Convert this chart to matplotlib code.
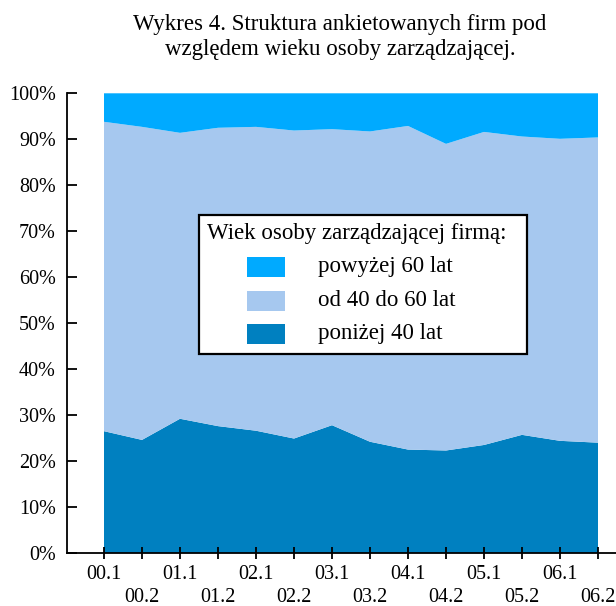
import numpy as np
import matplotlib.pyplot as plt
from matplotlib import rcParams
from matplotlib.patches import Rectangle

rcParams['font.family'] = 'Liberation Serif'
rcParams['font.size'] = 14.5

# half-year periods on the x axis
periods = ["00.1", "00.2", "01.1", "01.2", "02.1", "02.2", "03.1",
           "03.2", "04.1", "04.2", "05.1", "05.2", "06.1", "06.2"]

# share of firms, %
below_40 = [26.5, 24.6, 29.2, 27.6, 26.6, 24.9, 27.8,
            24.2, 22.5, 22.3, 23.5, 25.7, 24.4, 24.0]
# cumulative top of the "40-60" band
cum_below_60 = [93.8, 92.7, 91.4, 92.5, 92.7, 91.9, 92.2,
                91.7, 92.9, 89.0, 91.6, 90.6, 90.1, 90.4]

from_40_to_60 = [c - b for c, b in zip(cum_below_60, below_40)]
above_60 = [100 - c for c in cum_below_60]

labels = ["powyżej 60 lat", "od 40 do 60 lat", "poniżej 40 lat"]
colors = ["#00AAFF", "#A6C8EF", "#0080C0"]
legend_title = "Wiek osoby zarządzającej firmą:"

W, H = 616, 606
fig = plt.figure(figsize=(W / 100, H / 100), dpi=100, facecolor='white')

# axes placed in pixel terms: left spine x=67, bottom y=553, top y=93.3
ax = fig.add_axes([67 / W, 1 - 553 / H, (W - 67) / W, (553 - 93.3) / H])

x = np.arange(len(periods))
ax.stackplot(x, below_40, from_40_to_60, above_60,
             colors=[colors[2], colors[1], colors[0]], linewidth=0)

ax.set_xlim(-37 / 38, (W - 104) / 38)
ax.set_ylim(0, 100)

ax.spines[['top', 'right']].set_visible(False)
ax.spines['left'].set_linewidth(1.3)
ax.spines['bottom'].set_linewidth(1.3)

ax.set_yticks(np.arange(0, 101, 10))
ax.set_yticklabels([f"{v}%" for v in range(0, 101, 10)])
ax.set_xticks(x)
ax.set_xticklabels([p if i % 2 == 0 else "\n" + p for i, p in enumerate(periods)],
                   linespacing=1.3)
ax.tick_params(axis='y', direction='in', length=7, width=1.3, pad=8)
ax.tick_params(axis='x', direction='inout', length=9, width=1.3, pad=4)

# title
fig.text(0.552, 1 - 37 / H, "Wykres 4. Struktura ankietowanych firm pod\nwzględem wieku osoby zarządzającej.",
         ha='center', va='center', fontsize=16.5, linespacing=1.3)

# legend box drawn in pixel positions
def px(xp, yp):
    return xp / W, 1 - yp / H

bx0, by0, bx1, by1 = 199, 215, 527, 354
fig.patches.append(Rectangle(px(bx0, by1), (bx1 - bx0) / W, (by1 - by0) / H,
                             transform=fig.transFigure, facecolor='white',
                             edgecolor='black', linewidth=1.6, zorder=5))
fig.text(*px(207, 233), legend_title, ha='left', va='center', fontsize=16.5, zorder=6)
for i, (lab, col) in enumerate(zip(labels, colors)):
    yc = 267 + i * 33.5
    fig.patches.append(Rectangle(px(247, yc + 10), 38 / W, 20 / H,
                                 transform=fig.transFigure, facecolor=col,
                                 edgecolor='none', zorder=6))
    fig.text(*px(318, yc), lab, ha='left', va='center', fontsize=16.5, zorder=6)

fig.savefig("out.png", dpi=100, facecolor='white')
